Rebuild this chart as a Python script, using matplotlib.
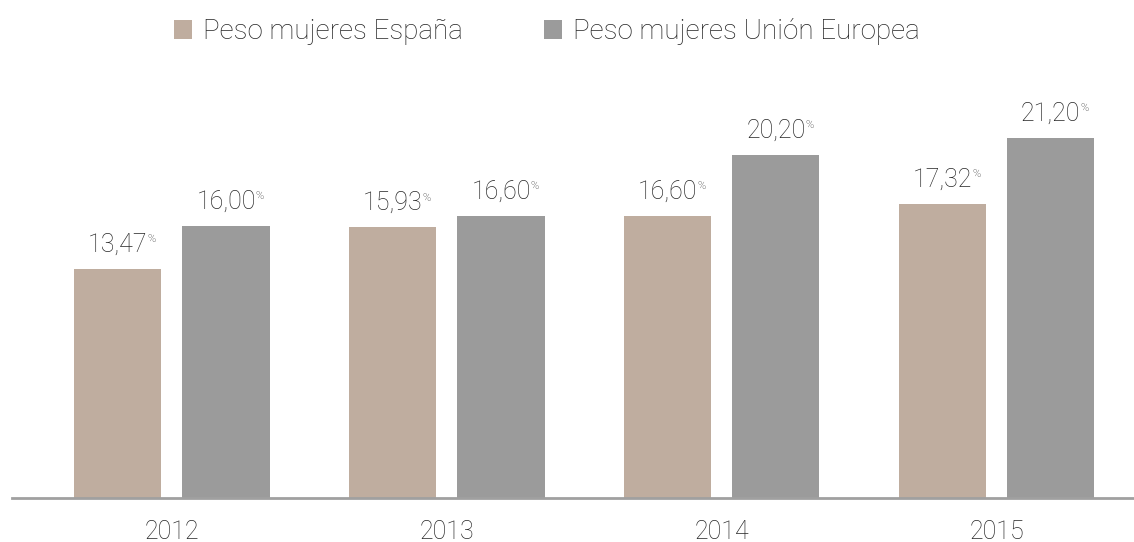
import matplotlib.pyplot as plt
import numpy as np

years = ['2012', '2013', '2014', '2015']
espana = [13.47, 15.93, 16.60, 17.32]
europa = [16.00, 16.60, 20.20, 21.20]
espana_lbl = ['13,47', '15,93', '16,60', '17,32']
europa_lbl = ['16,00', '16,60', '20,20', '21,20']

c_es = '#bfad9f'
c_eu = '#9b9b9b'
txt = '#262626'

plt.rcParams['font.family'] = ['Roboto', 'DejaVu Sans']
plt.rcParams['font.weight'] = 'light'

fig = plt.figure(figsize=(11.34, 5.42), dpi=100)
ax = fig.add_axes([12 / 1134, 44 / 542, 1 - 12 / 1134, 428 / 542])

x = np.arange(len(years))
w = 0.3175
off = 0.197
b1 = ax.bar(x - off, espana, w, color=c_es, label='Peso mujeres España')
b2 = ax.bar(x + off, europa, w, color=c_eu, label='Peso mujeres Unión Europea')

# value labels with small % as superscript
for bars, labels in ((b1, espana_lbl), (b2, europa_lbl)):
    for b, lab in zip(bars, labels):
        t = ax.annotate(lab, (b.get_x() + b.get_width() / 2, b.get_height()),
                        xytext=(0, 9), textcoords='offset points',
                        ha='center', va='bottom', fontsize=18, color=txt,
                        fontweight='light')
        ax.annotate('%', xy=(1.0, 0.72), xycoords=t, ha='left', va='center',
                    fontsize=8, color=txt, fontweight='light')

ax.set_xlim(-0.582, 3.5)
ax.set_ylim(0, 25.2)
ax.set_xticks(x)
ax.set_xticklabels(years, fontsize=18, color=txt, fontweight='light')
ax.tick_params(axis='x', length=0, pad=16)
ax.set_yticks([])
for s in ['top', 'right', 'left']:
    ax.spines[s].set_visible(False)
ax.spines['bottom'].set_color('#a0a0a0')
ax.spines['bottom'].set_linewidth(2)

fig.legend(loc='upper center', bbox_to_anchor=(547 / 1134, 1.012), ncol=2,
           frameon=False, handlelength=0.65, handleheight=0.65,
           handletextpad=0.4, columnspacing=2.9,
           prop={'size': 20, 'weight': 'light'})
for t in fig.legends[0].get_texts():
    t.set_color(txt)

fig.savefig('out.png', dpi=100)
